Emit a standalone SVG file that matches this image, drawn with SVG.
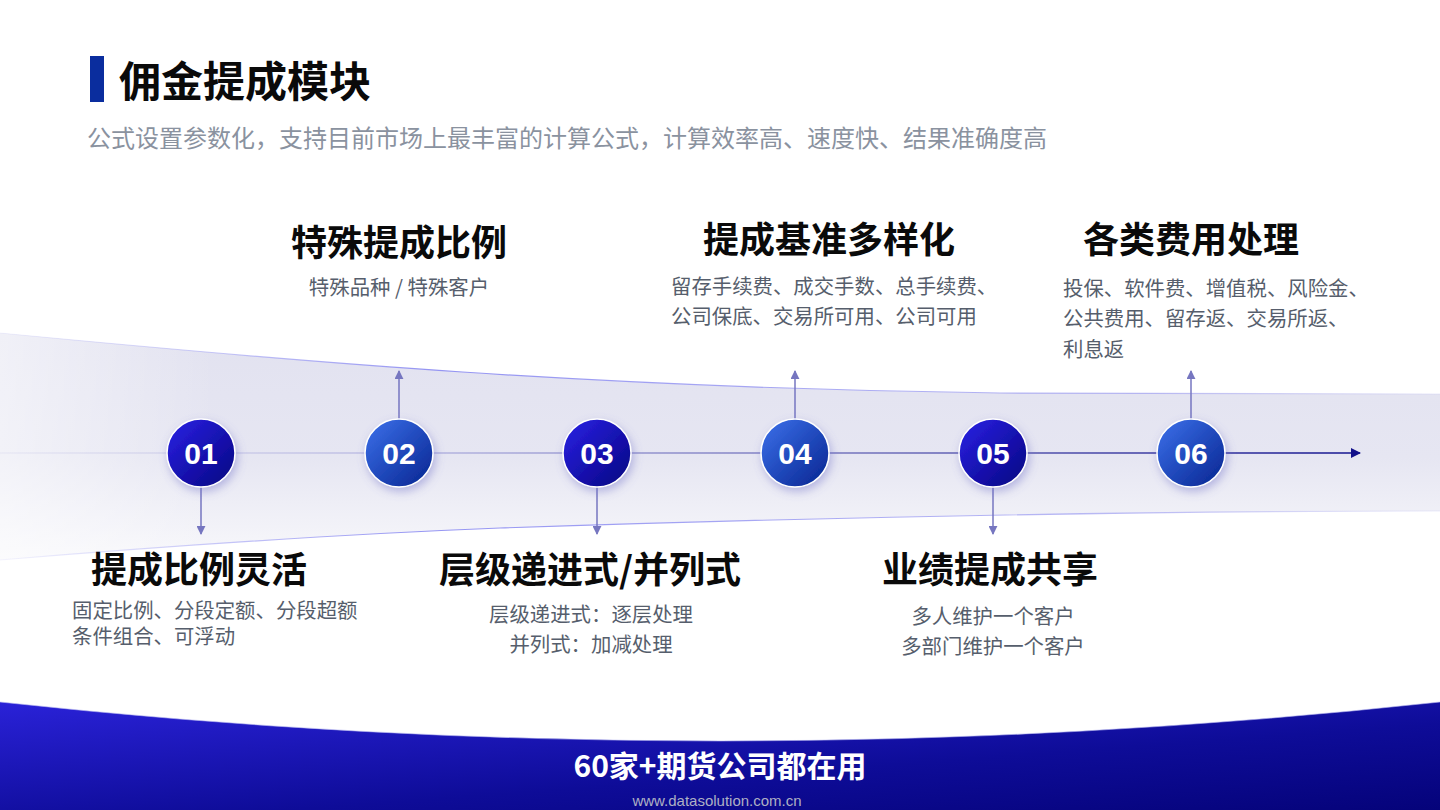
<svg xmlns="http://www.w3.org/2000/svg" width="1440" height="810" viewBox="0 0 1440 810">
<defs>
<style>
.cjk{font-family:"Noto Sans CJK SC","Liberation Sans",sans-serif;}
.title{font-size:42px;font-weight:700;fill:#0a0a0a;}
.sub{font-size:24px;fill:#8a929f;}
.head{font-size:36px;font-weight:700;fill:#0a0a0a;text-anchor:middle;}
.desc{font-size:20.4px;fill:#565e6c;}
.num{font-family:"Liberation Sans",Arial,sans-serif;font-size:30px;font-weight:700;fill:#ffffff;text-anchor:middle;}
.node-odd{fill:url(#gOdd);stroke:#ffffff;stroke-width:1.5;filter:url(#sh);}
.node-even{fill:url(#gEven);stroke:#ffffff;stroke-width:1.5;filter:url(#sh);}
.vline{stroke:#7676c0;stroke-width:1.5;fill:none;}
</style>
<linearGradient id="gOdd" x1="0" y1="0" x2="1" y2="1">
<stop offset="0" stop-color="#2b22e6"/>
<stop offset="1" stop-color="#05037f"/>
</linearGradient>
<linearGradient id="gEven" x1="0" y1="0" x2="1" y2="1">
<stop offset="0" stop-color="#3d72ec"/>
<stop offset="1" stop-color="#06238f"/>
</linearGradient>
<linearGradient id="gBand" x1="0" y1="333" x2="0" y2="560" gradientUnits="userSpaceOnUse">
<stop offset="0" stop-color="#e2e2f0"/>
<stop offset="0.55" stop-color="#e6e6f2"/>
<stop offset="1" stop-color="#f8f8fb"/>
</linearGradient>
<linearGradient id="gBandL" x1="0" y1="0" x2="1440" y2="0" gradientUnits="userSpaceOnUse">
<stop offset="0" stop-color="#ffffff" stop-opacity="0.5"/>
<stop offset="0.15" stop-color="#ffffff" stop-opacity="0"/>
<stop offset="1" stop-color="#ffffff" stop-opacity="0"/>
</linearGradient>
<linearGradient id="gEdge" x1="0" y1="0" x2="1440" y2="0" gradientUnits="userSpaceOnUse">
<stop offset="0" stop-color="#9a9af2" stop-opacity="0.1"/>
<stop offset="0.3" stop-color="#8a8af2" stop-opacity="0.9"/>
<stop offset="0.8" stop-color="#a0a0f0" stop-opacity="0.7"/>
<stop offset="1" stop-color="#c0c0f0" stop-opacity="0.3"/>
</linearGradient>
<linearGradient id="gAxis" x1="0" y1="0" x2="1360" y2="0" gradientUnits="userSpaceOnUse">
<stop offset="0" stop-color="#d0d0ea" stop-opacity="0.2"/>
<stop offset="0.3" stop-color="#c4c4e6"/>
<stop offset="0.65" stop-color="#8c8cc8"/>
<stop offset="1" stop-color="#4848a8"/>
</linearGradient>
<linearGradient id="gFoot" x1="0" y1="0" x2="1" y2="1">
<stop offset="0" stop-color="#2a22d8"/>
<stop offset="0.6" stop-color="#0e0c98"/>
<stop offset="1" stop-color="#05037a"/>
</linearGradient>
<filter id="sh" x="-50%" y="-50%" width="200%" height="200%">
<feDropShadow dx="2" dy="4" stdDeviation="5" flood-color="#7070c8" flood-opacity="0.45"/>
</filter>
<marker id="ah" viewBox="0 0 10 10" refX="9" refY="5" markerWidth="9" markerHeight="9" markerUnits="userSpaceOnUse" orient="auto">
<path d="M0,0 L10,5 L0,10 Z" fill="#7676c0"/>
</marker>
<marker id="ahAxis" viewBox="0 0 10 10" refX="9" refY="5" markerWidth="10" markerHeight="10" markerUnits="userSpaceOnUse" orient="auto">
<path d="M0,0 L10,5 L0,10 Z" fill="#12108a"/>
</marker>
</defs>

<rect width="1440" height="810" fill="#ffffff"/>

<!-- background band -->
<path d="M0,333 C300,362 600,388 1000,393 L1440,394 L1440,511 C1100,511 800,518 500,528 C300,536 120,550 0,560 Z" fill="url(#gBand)"/>
<path d="M0,333 C300,362 600,388 1000,393 L1440,394 L1440,511 C1100,511 800,518 500,528 C300,536 120,550 0,560 Z" fill="url(#gBandL)"/>
<path d="M0,333 C300,362 600,388 1000,393 L1440,394" fill="none" stroke="url(#gEdge)" stroke-width="1.2"/>
<path d="M1440,511 C1100,511 800,518 500,528 C300,536 120,550 0,560" fill="none" stroke="url(#gEdge)" stroke-width="1.2"/>

<!-- header -->
<rect x="90" y="56" width="14" height="46" fill="#0a2d9e"/>
<text class="cjk title" x="119" y="97">佣金提成模块</text>
<text class="cjk sub" x="87" y="147">公式设置参数化，支持目前市场上最丰富的计算公式，计算效率高、速度快、结果准确度高</text>

<!-- connectors -->
<g id="connectors">
<line x1="0" y1="453" x2="1360" y2="453" stroke="url(#gAxis)" stroke-width="2" marker-end="url(#ahAxis)"/>
<line class="vline" x1="201" y1="487" x2="201" y2="534" marker-end="url(#ah)"/>
<line class="vline" x1="399" y1="419" x2="399" y2="371" marker-end="url(#ah)"/>
<line class="vline" x1="597" y1="487" x2="597" y2="534" marker-end="url(#ah)"/>
<line class="vline" x1="795" y1="419" x2="795" y2="371" marker-end="url(#ah)"/>
<line class="vline" x1="993" y1="487" x2="993" y2="534" marker-end="url(#ah)"/>
<line class="vline" x1="1191" y1="419" x2="1191" y2="371" marker-end="url(#ah)"/>
</g>

<!-- nodes -->
<g id="node-01">
<circle class="node-odd" cx="201" cy="453" r="34"/>
<text class="num" x="201" y="464">01</text>
<text class="cjk head" x="199" y="583">提成比例灵活</text>
<text class="cjk desc" x="72" y="618">固定比例、分段定额、分段超额</text>
<text class="cjk desc" x="72" y="644">条件组合、可浮动</text>
</g>
<g id="node-02">
<circle class="node-even" cx="399" cy="453" r="34"/>
<text class="num" x="399" y="464">02</text>
<text class="cjk head" x="399" y="256">特殊提成比例</text>
<text class="cjk desc" x="399" y="295" text-anchor="middle">特殊品种 / 特殊客户</text>
</g>
<g id="node-03">
<circle class="node-odd" cx="597" cy="453" r="34"/>
<text class="num" x="597" y="464">03</text>
<text class="cjk head" x="590" y="583">层级递进式/并列式</text>
<text class="cjk desc" x="591" y="622" text-anchor="middle">层级递进式：逐层处理</text>
<text class="cjk desc" x="591" y="652" text-anchor="middle">并列式：加减处理</text>
</g>
<g id="node-04">
<circle class="node-even" cx="795" cy="453" r="34"/>
<text class="num" x="795" y="464">04</text>
<text class="cjk head" x="829" y="253">提成基准多样化</text>
<text class="cjk desc" x="671" y="294">留存手续费、成交手数、总手续费、</text>
<text class="cjk desc" x="671" y="324">公司保底、交易所可用、公司可用</text>
</g>
<g id="node-05">
<circle class="node-odd" cx="993" cy="453" r="34"/>
<text class="num" x="993" y="464">05</text>
<text class="cjk head" x="990" y="583">业绩提成共享</text>
<text class="cjk desc" x="993" y="624" text-anchor="middle">多人维护一个客户</text>
<text class="cjk desc" x="993" y="654" text-anchor="middle">多部门维护一个客户</text>
</g>
<g id="node-06">
<circle class="node-even" cx="1191" cy="453" r="34"/>
<text class="num" x="1191" y="464">06</text>
<text class="cjk head" x="1191" y="253">各类费用处理</text>
<text class="cjk desc" x="1063" y="296">投保、软件费、增值税、风险金、</text>
<text class="cjk desc" x="1063" y="326">公共费用、留存返、交易所返、</text>
<text class="cjk desc" x="1063" y="357">利息返</text>
</g>

<!-- footer -->
<path d="M0,702 Q720,780 1440,702 L1440,810 L0,810 Z" fill="url(#gFoot)"/>
<path d="M0,702 Q720,780 1440,702" fill="none" stroke="#b8b8f0" stroke-opacity="0.6" stroke-width="1"/>
<text class="cjk" x="720" y="777" text-anchor="middle" font-size="30" font-weight="700" fill="#ffffff">60家+期货公司都在用</text>
<text x="717" y="806" text-anchor="middle" font-family="Liberation Sans, Arial, sans-serif" font-size="15" fill="#aeb0c4">www.datasolution.com.cn</text>
</svg>
